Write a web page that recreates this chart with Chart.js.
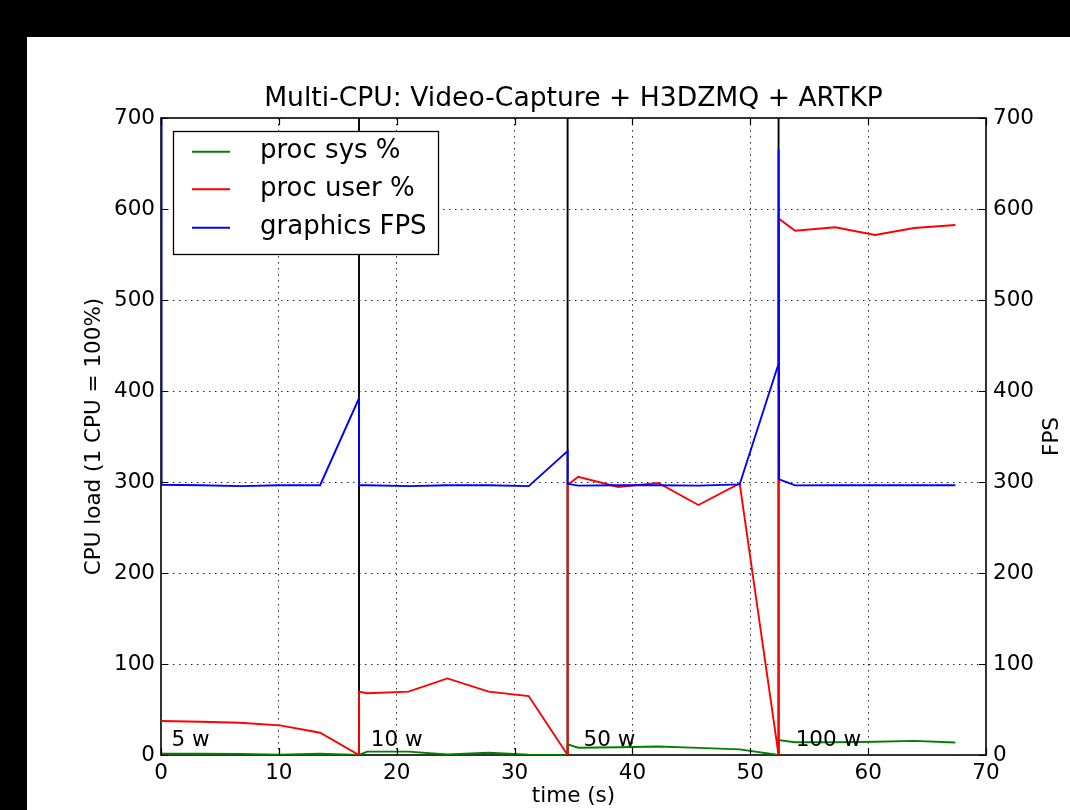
<!DOCTYPE html>
<html>
<head>
<meta charset="utf-8">
<style>
  html, body { margin: 0; padding: 0; background: #000; }
  #c { display: block; }
</style>
<script src="https://cdn.jsdelivr.net/npm/chart.js@4/dist/chart.umd.min.js"></script>
</head>
<body>
<canvas id="c" width="1070" height="810"></canvas>
<script>
// ---------------- data ----------------
const chartTitle = "Multi-CPU: Video-Capture + H3DZMQ + ARTKP";
const xTitle = "time (s)";
const yTitle = "CPU load (1 CPU = 100%)";
const y2Title = "FPS";

const cpuTime = [0, 3.4, 6.7, 10.1, 13.5, 16.8, 16.8, 17.5, 21.0, 24.3, 27.8, 31.2, 34.5, 34.5, 35.4, 38.8, 42.2, 45.6, 49.1, 52.4, 52.4, 53.8, 57.2, 60.6, 63.9, 67.4];
const procSys = [1.5, 1.3, 1.2, 0.2, 1.3, 0, 0, 3.7, 3.7, 0.5, 2.5, 0.3, 0, 11.7, 8.0, 8.5, 9.3, 7.8, 6.2, 0, 16.5, 14.0, 14.0, 14.5, 15.5, 13.8];
const procUser = [37.4, 36.5, 35.5, 32.5, 24.5, 0, 69.6, 67.8, 69.6, 84.2, 69.6, 64.8, 0, 296.7, 305.8, 294.5, 299.0, 274.7, 298.5, 0, 589.7, 576.2, 579.9, 571.4, 579.1, 582.4];

const fpsTime = [0, 0.05, 3.4, 6.7, 10.1, 13.5, 16.8, 16.8, 17.5, 21.0, 24.3, 27.8, 31.2, 34.5, 34.5, 35.4, 38.8, 42.2, 45.6, 49.1, 52.4, 52.4, 52.45, 53.8, 57.2, 60.6, 63.9, 67.4];
const fpsValues = [700, 297, 296.5, 295.5, 296.5, 296.5, 392, 296.5, 296.5, 295.5, 296.5, 296.5, 295.5, 334, 298, 296, 296.5, 296.5, 296, 297.4, 430, 665, 303, 296.3, 296.5, 296.5, 296.5, 296.5];

const markerTimes = [16.8, 34.5, 52.4];
const segmentLabels = ["5 w", "10 w", "50 w", "100 w"];
const segmentLabelX = [0.9, 17.8, 35.85, 53.85];
const segmentLabelY = 9.5;

const seriesNames = ["proc sys %", "proc user %", "graphics FPS"];
const seriesColors = ["#008000", "#ff0000", "#0000ff"];

const xMin = 0, xMax = 70, xStep = 10;
const yMin = 0, yMax = 700, yStep = 100;

// ---------------- build ----------------
const FONT = "'DejaVu Sans', 'Liberation Sans', sans-serif";
const pts = (xs, ys) => xs.map((x, i) => ({ x: x, y: ys[i] }));

const datasets = [
  { label: seriesNames[2], data: pts(fpsTime, fpsValues), yAxisID: 'y1', borderColor: seriesColors[2], order: 0 },
  { label: seriesNames[1], data: pts(cpuTime, procUser), yAxisID: 'y', borderColor: seriesColors[1], order: 1 },
  { label: seriesNames[0], data: pts(cpuTime, procSys), yAxisID: 'y', borderColor: seriesColors[0], order: 2 },
];
markerTimes.forEach(m => {
  datasets.push({ label: 'marker', data: [{ x: m, y: yMin }, { x: m, y: yMax }], yAxisID: 'y', borderColor: '#000', order: 3 });
});
datasets.forEach(d => {
  d.borderWidth = 1.9; d.pointRadius = 0; d.tension = 0; d.fill = false;
  d.showLine = true; d.backgroundColor = d.borderColor;
});

const interiorGrid = (ctx) => {
  const v = ctx.tick ? ctx.tick.value : null;
  const s = ctx.scale;
  if (v === null || v === s.min || v === s.max) return 'rgba(0,0,0,0)';
  return 'rgba(0,0,0,0.85)';
};

const decorPlugin = {
  id: 'decor',
  beforeDraw(chart) {
    const c = chart.ctx;
    c.save();
    c.fillStyle = '#000';
    c.fillRect(0, 0, chart.width, chart.height);
    c.fillStyle = '#fff';
    c.fillRect(27, 37, chart.width - 27, chart.height - 37);
    c.restore();
  },
  beforeDatasetsDraw(chart) {
    const c = chart.ctx, a = chart.chartArea;
    c.save();
    c.strokeStyle = '#000';
    c.lineWidth = 1.6;
    c.strokeRect(a.left, a.top, a.right - a.left, a.bottom - a.top);
    c.restore();
  },
  afterDatasetsDraw(chart) {
    const c = chart.ctx, a = chart.chartArea;
    const sx = chart.scales.x, sy = chart.scales.y, sy2 = chart.scales.y1;
    const TL = 7;
    c.save();
    c.strokeStyle = '#000';
    c.lineWidth = 1.2;
    c.beginPath();
    sx.ticks.forEach(t => {
      const px = Math.round(sx.getPixelForValue(t.value)) + 0.5;
      c.moveTo(px, a.bottom); c.lineTo(px, a.bottom - TL);
      c.moveTo(px, a.top); c.lineTo(px, a.top + TL);
    });
    sy.ticks.forEach(t => {
      const py = Math.round(sy.getPixelForValue(t.value)) + 0.5;
      c.moveTo(a.left, py); c.lineTo(a.left + TL, py);
    });
    sy2.ticks.forEach(t => {
      const py = Math.round(sy2.getPixelForValue(t.value)) + 0.5;
      c.moveTo(a.right, py); c.lineTo(a.right - TL, py);
    });
    c.stroke();

    // segment labels
    c.fillStyle = '#000';
    c.font = "21.5px " + FONT;
    c.textAlign = 'left';
    c.textBaseline = 'alphabetic';
    segmentLabels.forEach((s, i) => {
      c.fillText(s, sx.getPixelForValue(segmentLabelX[i]), sy.getPixelForValue(segmentLabelY));
    });

    // title
    c.font = "26.6px " + FONT;
    c.textAlign = 'center';
    c.fillText(chartTitle, (a.left + a.right) / 2, 106);

    // axis titles
    c.font = "21.5px " + FONT;
    c.fillText(xTitle, (a.left + a.right) / 2, 802);
    const cy = (a.top + a.bottom) / 2;
    c.save();
    c.translate(100, cy); c.rotate(-Math.PI / 2);
    c.fillText(yTitle, 0, 0);
    c.restore();
    c.save();
    c.translate(1058, cy); c.rotate(-Math.PI / 2);
    c.fillText(y2Title, 0, 0);
    c.restore();

    // legend
    const lx = 173.5, ly = 131.5, lw = 265, lh = 123;
    c.fillStyle = '#fff';
    c.fillRect(lx, ly, lw, lh);
    c.strokeStyle = '#000';
    c.lineWidth = 1.3;
    c.strokeRect(lx, ly, lw, lh);
    const rows = [151.7, 189.3, 227.7];
    c.font = "26px " + FONT;
    c.textAlign = 'left';
    c.textBaseline = 'middle';
    for (let i = 0; i < 3; i++) {
      c.strokeStyle = seriesColors[i];
      c.lineWidth = 1.9;
      c.beginPath();
      c.moveTo(192, rows[i]); c.lineTo(230, rows[i]);
      c.stroke();
      c.fillStyle = '#000';
      c.fillText(seriesNames[i], 260, rows[i]);
    }
    c.restore();
  }
};

new Chart(document.getElementById('c'), {
  type: 'scatter',
  data: { datasets: datasets },
  options: {
    responsive: false,
    animation: false,
    devicePixelRatio: 1,
    layout: { padding: { top: 118, left: 0, right: 0, bottom: 0 } },
    plugins: { legend: { display: false }, title: { display: false }, tooltip: { enabled: false } },
    scales: {
      x: {
        type: 'linear', position: 'bottom', min: xMin, max: xMax,
        ticks: { stepSize: xStep, color: '#000', font: { family: FONT, size: 21.5 }, padding: 6, maxRotation: 0 },
        grid: { color: interiorGrid, lineWidth: 1, drawTicks: false },
        border: { display: false, dash: [1.5, 4.5] },
        afterFit(s) { s.height = 55; }
      },
      y: {
        type: 'linear', position: 'left', min: yMin, max: yMax,
        ticks: { stepSize: yStep, color: '#000', font: { family: FONT, size: 21.5 }, padding: 6 },
        grid: { color: interiorGrid, lineWidth: 1, drawTicks: false },
        border: { display: false, dash: [1.5, 4.5] },
        afterFit(s) { s.width = 161; }
      },
      y1: {
        type: 'linear', position: 'right', min: yMin, max: yMax,
        ticks: { stepSize: yStep, color: '#000', font: { family: FONT, size: 21.5 }, padding: 7 },
        grid: { display: false, drawTicks: false },
        border: { display: false },
        afterFit(s) { s.width = 84; }
      }
    }
  },
  plugins: [decorPlugin]
});
</script>
</body>
</html>
